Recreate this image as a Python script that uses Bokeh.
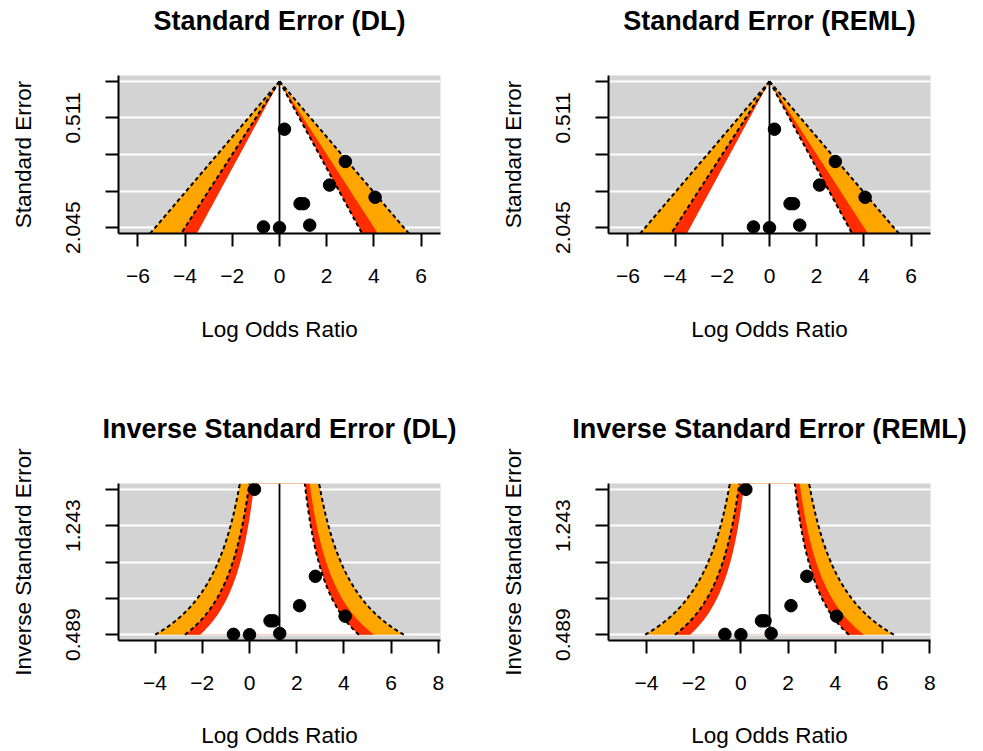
import numpy as np
from bokeh.plotting import figure
from bokeh.layouts import gridplot
from bokeh.models import Range1d, FixedTicker, Span, LinearAxis
from bokeh.embed import file_html
from bokeh.resources import INLINE

# ---------------- data ----------------
log_odds = [0.21, 2.79, 2.12, 4.05, 0.87, 1.02, -0.68, 0.00, 1.28]
std_err = [0.669, 1.12, 1.45, 1.62, 1.71, 1.71, 2.035, 2.045, 2.01]
estimate = {"DL": 1.27, "REML": 1.21}
contour_z = [2.576, 1.96, 1.645]          # 99%, 95%, 90% contours
contour_fill = ["#FFA500", "#FF2D00", "#FFFFFF"]
dashed_left_z = [2.576, 1.96]
dashed_right_z = [1.645, 2.576]
x_ticks_se = [-6, -4, -2, 0, 2, 4, 6]
x_ticks_inv = [-4, -2, 0, 2, 4, 6, 8]
shown_label_idx = [1, 4]                   # R drops overlapping labels

FONT = "Liberation Sans"
HALF_W = 6.82


def style(p, title, xlabel, ylabel, xlab_standoff):
    xa = p.below[0]
    ya = p.left[0]
    p.xgrid.visible = False
    p.ygrid.grid_line_color = "white"
    p.ygrid.grid_line_width = 2
    for ax in (xa, ya):
        ax.axis_line_width = 2
        ax.axis_line_color = "black"
        ax.major_tick_line_width = 2
        ax.major_tick_line_color = "black"
        ax.major_tick_out = 13
        ax.major_tick_in = 0
        ax.minor_tick_out = 0
        ax.minor_tick_in = 0
        ax.major_label_text_font = FONT
        ax.major_label_text_font_size = "21px"
        ax.major_label_text_color = "black"
        ax.axis_label_text_font = FONT
        ax.axis_label_text_font_size = "22.5px"
        ax.axis_label_text_font_style = "normal"
        ax.axis_label_text_color = "black"
    xa.axis_label = xlabel
    ya.axis_label = ylabel
    xa.major_label_standoff = 22
    xa.axis_label_standoff = xlab_standoff
    ya.major_label_standoff = 25
    ya.axis_label_standoff = 28
    ya.major_label_orientation = "vertical"
    # title drawn as an above-axis label so its distance to the frame is exact
    tax = LinearAxis(ticker=FixedTicker(ticks=[]), axis_line_color=None,
                     major_tick_out=0, major_tick_in=0, minor_tick_out=0, minor_tick_in=0,
                     major_label_standoff=0, major_label_text_font_size="0px",
                     axis_label=title,
                     axis_label_text_font=FONT, axis_label_text_font_size="27px",
                     axis_label_text_font_style="bold", axis_label_text_color="black",
                     axis_label_standoff=40)
    p.add_layout(tax, "above")


def new_fig(xr, yr, height, fh, bl, br, bt, bb):
    kw = dict(frame_width=322, x_range=xr, y_range=yr,
              output_backend="svg", toolbar_location=None,
              min_border_left=bl, min_border_right=br,
              min_border_top=bt, min_border_bottom=bb,
              background_fill_color="#D3D3D3", border_fill_color="white",
              outline_line_color=None)
    if height is None:
        kw["frame_height"] = fh
    else:
        kw["height"] = height
    return figure(**kw)


def dashed(p, xs, ys):
    p.line(xs, ys, line_color="black", line_width=2, line_dash="4 3")


def se_plot(method, bl, br):
    se_max = max(std_err)
    pad = 0.04 * se_max
    p = new_fig(Range1d(-HALF_W, HALF_W), Range1d(se_max + pad, -pad), None, 158, bl, br, 75, 175)
    yy = np.linspace(0, se_max + pad, 60)
    center = 0.0
    for z, col in zip(contour_z, contour_fill):
        xs = list(center - z * yy) + list(center + z * yy[::-1])
        ys = list(yy) + list(yy[::-1])
        p.patch(xs, ys, fill_color=col, line_color=None)
    for z in dashed_left_z:
        dashed(p, center - z * yy, yy)
    for z in dashed_right_z:
        dashed(p, center + z * yy, yy)
    p.segment(x0=[center], y0=[0], x1=[center], y1=[se_max + pad], line_color="black", line_width=1.8)
    p.scatter(log_odds, std_err, size=12.5, fill_color="black", line_color="black")
    ticks = [se_max * k / 4 for k in range(5)]
    p.below[0].ticker = FixedTicker(ticks=x_ticks_se)
    p.left[0].ticker = FixedTicker(ticks=ticks)
    p.left[0].major_label_overrides = {t: (f"{t:.3f}" if i in shown_label_idx else "")
                                       for i, t in enumerate(ticks)}
    style(p, f"Standard Error ({method})", "Log Odds Ratio", "Standard Error", 31)
    return p


def inv_plot(method, bl, br):
    inv = [1 / s for s in std_err]
    lo, hi = min(inv), max(inv)
    pad = 0.04 * (hi - lo)
    center = estimate[method]
    p = new_fig(Range1d(center - HALF_W, center + HALF_W), Range1d(lo - pad, hi + pad), 342, None, bl, br, 75, 108)
    yy = np.linspace(lo, hi + pad, 200)
    for z, col in zip(contour_z, contour_fill):
        xs = list(center - z / yy) + list(center + z / yy[::-1])
        ys = list(yy) + list(yy[::-1])
        p.patch(xs, ys, fill_color=col, line_color=None)
    for z in dashed_left_z:
        dashed(p, center - z / yy, yy)
    for z in dashed_right_z:
        dashed(p, center + z / yy, yy)
    p.add_layout(Span(location=center, dimension="height", line_color="black", line_width=1.8))
    p.scatter(log_odds, inv, size=12.5, fill_color="black", line_color="black")
    ticks = [hi - (hi - lo) * k / 4 for k in range(5)]
    p.below[0].ticker = FixedTicker(ticks=x_ticks_inv)
    p.left[0].ticker = FixedTicker(ticks=ticks)
    p.left[0].major_label_overrides = {t: (f"{t:.3f}" if i in shown_label_idx else "")
                                       for i, t in enumerate(ticks)}
    style(p, f"Inverse Standard Error ({method})", "Log Odds Ratio", "Inverse Standard Error", 30)
    return p


p1 = se_plot("DL", 118, 50)
p2 = se_plot("REML", 118, 45)
p3 = inv_plot("DL", 118, 50)
p4 = inv_plot("REML", 118, 45)

grid = gridplot([[p1, p2], [p3, p4]], toolbar_location=None)
open("out.html", "w").write(file_html(grid, INLINE))
